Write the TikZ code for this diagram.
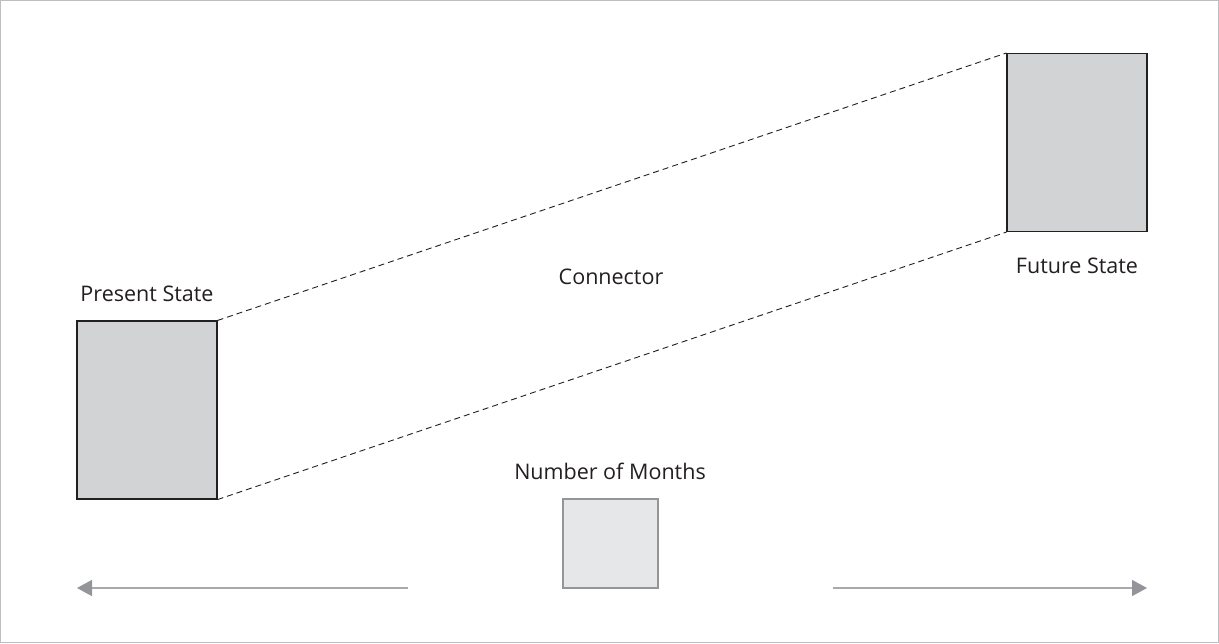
\documentclass[tikz,border=0pt]{standalone}
\usepackage{fontspec}
\setmainfont{Open Sans}
\usetikzlibrary{arrows.meta}
\definecolor{boxfill}{HTML}{D1D3D4}
\definecolor{boxline}{HTML}{231F20}
\definecolor{monthfill}{HTML}{E6E7E8}
\definecolor{monthline}{HTML}{939598}
\definecolor{arrowgray}{HTML}{A7A9AC}
\definecolor{tipgray}{HTML}{939598}
\definecolor{framegray}{HTML}{BCBEC0}
\tikzset{
  statebox/.style={draw=boxline, fill=boxfill, line width=1.1pt, minimum width=140pt, minimum height=178pt, inner sep=0pt},
  monthbox/.style={draw=monthline, fill=monthfill, line width=1.1pt, minimum width=95pt, minimum height=89pt, inner sep=0pt},
  lbl/.style={font=\fontsize{21.5}{25}\selectfont, text=boxline, inner sep=0pt},
  conn/.style={dashed, dash pattern=on 6pt off 4pt, line width=0.9pt, draw=boxline},
  timeline/.style={draw=arrowgray, line width=1.5pt, -{Triangle[length=15pt,width=16pt,fill=tipgray,color=tipgray]}}
}
\begin{document}
\begin{tikzpicture}[x=1pt,y=-1pt]
\draw[framegray, line width=1pt, fill=white] (0.5,0.5) rectangle (1218.5,642.5);
\useasboundingbox (0,0) rectangle (1219,643);
\node[statebox] (present) at (147,410) {};
\node[statebox] (future) at (1077,142.5) {};
\node[monthbox] (months) at (610.5,543.5) {};
\node[lbl] (presentlbl) at (147,294) {Present State};
\node[lbl] (futurelbl) at (1077,266) {Future State};
\node[lbl] (connlbl) at (611,277) {Connector};
\node[lbl] (monthslbl) at (610,471) {Number of Months};
\draw[conn] (present.north east) -- (future.north west);
\draw[conn] (present.south east) -- (future.south west);
\coordinate (leftend) at (77,588);
\coordinate (leftstart) at (408,588);
\coordinate (rightstart) at (833,588);
\coordinate (rightend) at (1147,588);
\draw[timeline] (leftstart) -- (leftend);
\draw[timeline] (rightstart) -- (rightend);
\end{tikzpicture}
\end{document}
